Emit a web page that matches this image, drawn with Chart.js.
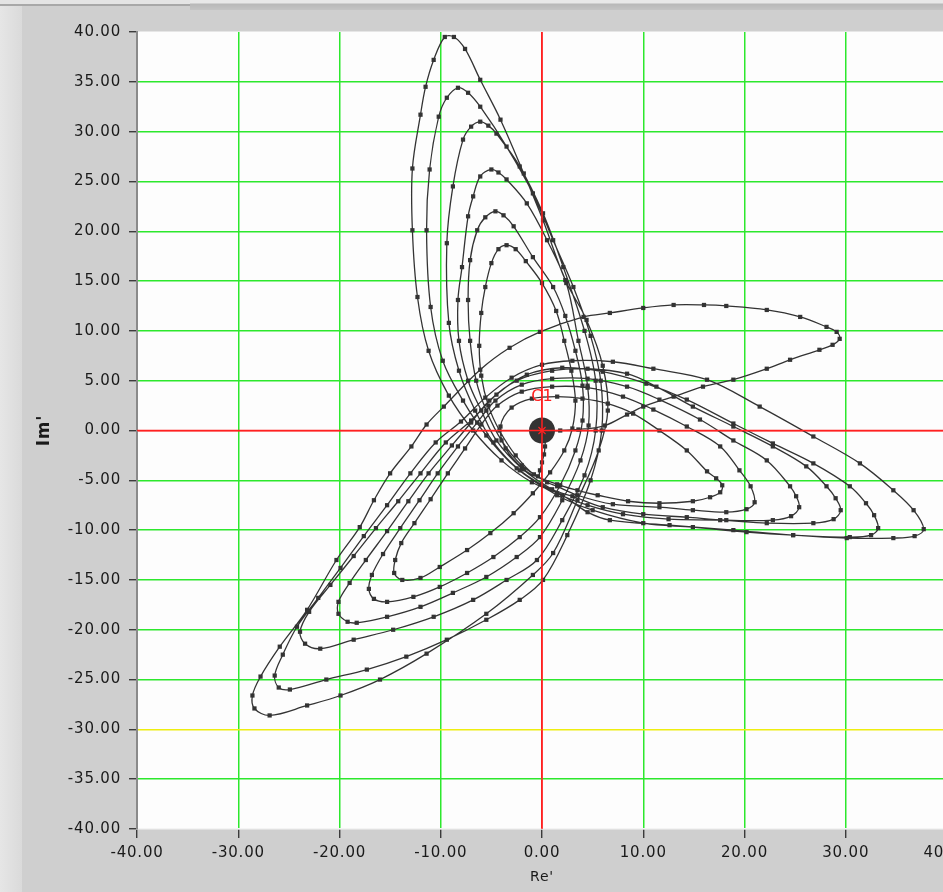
<!DOCTYPE html>
<html>
<head>
<meta charset="utf-8">
<script src="https://cdn.jsdelivr.net/npm/chart.js@4.4.1/dist/chart.umd.min.js"></script>
<style>
  html, body { margin: 0; padding: 0; width: 943px; height: 892px; overflow: hidden; background: #cfcfcf; }
  #left-strip { position: absolute; left: 0; top: 0; width: 22px; height: 892px; background: linear-gradient(to right, #e6e6e6, #dadada); }
  #top-tab { position: absolute; left: 0; top: 0; width: 190px; height: 4px; background: #e4e4e4; border-bottom: 2px solid #a8a8a8; }
  #top-bar { position: absolute; left: 190px; top: 0; width: 753px; height: 10px; background: linear-gradient(to bottom, #e8e8e8 0, #e8e8e8 3px, #b8b8b8 4px, #c4c4c4 10px); }
  #wrap { position: absolute; left: 0; top: 0; width: 1000px; height: 892px; }
</style>
</head>
<body>
<div id="left-strip"></div>
<div id="top-tab"></div>
<div id="top-bar"></div>
<div id="wrap"><canvas id="xyGraph"></canvas></div>
<script>
const curveColor = "#333333";
const gridColor = "#2de82d";
const cursorColor = "#ff2020";
const cursor2Color = "#eeee10";
const textColor = "#1a1a1a";

const axisMin = -40;
const axisMax = 40;
const xStep = 10;
const yStep = 5;

// cursor C1 sits on the origin, a second cursor line at Im' = -30
const cursorName = 'C1';
const cursorRe = 0;
const cursorIm = 0;
const cursor2Im = -30;

// [Re', Im'] samples, outer turn first, ending at the origin
const firstLoop = [[0.0,0.0],[1.8,0.0],[3.6,0.1],[6.2,0.5],[8.4,1.6],[10.0,2.4],[13.0,3.4],[15.9,4.4],[18.9,5.1],[22.2,6.2],[24.5,7.1],[27.4,8.1],[28.7,8.6],[29.4,9.2],[29.1,9.9],[28.1,10.4],[25.5,11.4],[22.2,12.1],[18.2,12.5],[16.0,12.6],[13.0,12.6],[10.0,12.3],[6.7,11.8],[4.1,11.4],[-0.2,9.9],[-3.2,8.3],[-6.1,6.1],[-9.7,2.4],[-11.4,0.6],[-12.9,-1.6]];

const turn6 = [[-15.0,-4.3],[-16.6,-7.0],[-18.0,-9.7],[-20.3,-13.0],[-23.2,-18.0],[-25.9,-21.7],[-27.8,-24.7],[-28.6,-26.6],[-28.4,-27.9],[-26.9,-28.6],[-23.2,-27.6],[-19.9,-26.6],[-16.0,-25.0],[-11.4,-22.4],[-5.5,-18.4],[-0.9,-14.5],[1.1,-12.3],[3.5,-7.0],
  [5.6,-2.0],[6.5,2.0],[6.0,6.5],[4.4,11.1],[2.3,15.1],[0.1,21.1],[-1.8,25.8],[-4.1,31.2],[-6.1,35.2],[-7.6,38.3],[-8.7,39.5],[-9.6,39.5],[-10.7,37.2],[-11.5,34.5],[-12.0,31.7],[-12.8,26.3],[-12.8,20.1],[-12.3,13.4],[-11.2,8.0],[-9.2,3.5],[-6.8,0.0],[-4.0,-3.0],[-1.0,-5.2],[2.0,-6.5],
  [4.5,-8.2],[6.7,-9.0],[12.6,-9.5],[18.9,-10.0],[24.8,-10.5],[30.1,-10.8],[34.7,-10.8],[36.8,-10.6],[37.7,-9.9],[36.7,-8.0],[34.7,-6.0],[31.4,-3.3],[26.8,-0.6],[21.5,2.4],[16.3,5.1],[11.0,6.2],[7.0,6.9],[3.0,7.0],[0.0,6.6],[-3.0,5.3],[-5.6,3.3],[-8.0,0.9],[-10.5,-1.2]];

const turn5 = [[-13.0,-4.3],[-15.3,-7.5],[-17.6,-10.6],[-19.9,-13.8],[-22.1,-16.8],[-24.2,-19.7],[-25.6,-22.5],[-26.4,-24.6],[-26.0,-25.8],[-24.9,-26.0],[-21.3,-25.0],[-17.3,-24.0],[-13.4,-22.7],[-9.4,-21.0],[-5.5,-19.0],[-2.2,-17.0],[0.1,-15.0],[2.5,-10.5],
  [4.8,-5.0],[5.9,0.0],[5.8,5.0],[4.8,9.5],[3.1,14.4],[1.1,19.1],[-0.9,23.8],[-3.5,28.5],[-6.1,32.5],[-7.3,33.9],[-8.3,34.4],[-9.4,33.4],[-10.2,31.5],[-11.1,26.2],[-11.4,20.1],[-11.0,12.4],[-9.8,7.0],[-7.8,3.0],[-5.5,-0.5],[-2.5,-3.8],[1.5,-6.5],
  [5.0,-8.0],[10.0,-9.3],[14.9,-9.7],[20.2,-10.2],[24.8,-10.5],[30.4,-10.7],[32.5,-10.5],[33.2,-9.8],[32.8,-8.5],[32.0,-7.3],[30.4,-5.6],[26.8,-3.3],[22.8,-1.3],[18.9,0.7],[14.3,3.1],[10.3,4.7],[6.0,5.9],[2.0,6.3],[-1.5,5.6],[-4.5,3.6],[-7.0,1.0],[-9.5,-1.2]];

const turn4 = [[-12.0,-4.3],[-14.2,-7.1],[-16.4,-9.8],[-18.6,-12.6],[-20.9,-15.5],[-23.0,-18.2],[-23.9,-20.2],[-23.4,-21.4],[-21.9,-21.9],[-18.6,-21.0],[-14.7,-20.0],[-10.7,-18.7],[-6.8,-17.0],[-3.5,-15.0],[-0.5,-13.0],[2.0,-9.0],
  [4.2,-4.5],[5.3,0.0],[5.3,5.0],[4.2,10.0],[2.1,16.4],[0.1,21.8],[-2.2,26.5],[-4.5,29.8],[-5.3,30.6],[-6.1,31.0],[-7.0,30.5],[-7.8,29.2],[-8.8,24.5],[-9.4,18.8],[-9.2,10.8],[-8.2,6.0],[-6.6,2.0],[-4.8,-1.2],[-2.2,-4.0],[1.5,-6.3],
  [4.5,-7.5],[8.0,-8.4],[12.5,-8.9],[17.6,-9.0],[22.2,-9.3],[26.8,-9.3],[28.8,-8.9],[29.5,-8.0],[29.0,-6.8],[28.1,-5.6],[26.1,-3.6],[22.8,-1.6],[18.9,0.4],[14.9,2.4],[11.3,4.4],[8.4,5.7],[4.5,6.2],[1.0,6.0],[-2.5,5.0],[-5.2,3.0],[-7.0,0.8],[-8.9,-1.5]];

const turn3 = [[-11.2,-4.3],[-13.2,-7.1],[-15.3,-10.1],[-17.4,-13.0],[-19.0,-15.3],[-20.1,-17.2],[-20.1,-18.4],[-19.2,-19.2],[-18.3,-19.3],[-15.3,-18.7],[-12.0,-17.7],[-8.8,-16.3],[-5.5,-14.7],[-2.5,-12.7],[-0.2,-10.7],[2.0,-7.0],
  [3.8,-3.0],[4.6,0.5],[4.5,4.5],[3.6,9.0],[2.4,14.8],[0.5,19.1],[-1.5,22.8],[-3.5,25.2],[-4.3,25.9],[-5.0,26.2],[-6.1,25.5],[-6.8,23.5],[-7.3,21.5],[-7.9,16.4],[-8.3,13.1],[-8.2,9.0],[-7.3,5.0],[-6.0,2.0],[-4.5,-1.0],[-2.0,-3.8],[1.0,-5.9],
  [3.0,-6.6],[6.0,-7.7],[10.0,-8.4],[14.3,-8.7],[18.2,-9.0],[22.8,-9.0],[24.6,-8.6],[25.4,-7.7],[25.1,-6.6],[24.5,-5.6],[22.2,-3.0],[18.9,-1.0],[15.6,1.1],[11.6,3.1],[8.4,4.4],[4.5,5.2],[1.0,5.2],[-2.0,4.6],[-4.6,3.0],[-6.4,0.8],[-8.3,-1.6]];

const turn2 = [[-10.3,-4.3],[-12.1,-7.0],[-14.0,-9.8],[-15.7,-12.4],[-16.8,-14.5],[-17.1,-15.9],[-16.6,-16.9],[-15.3,-17.2],[-12.7,-16.7],[-10.1,-15.7],[-7.4,-14.3],[-4.8,-12.7],[-2.2,-10.7],[-0.2,-8.7],[1.8,-5.5],
  [3.3,-2.0],[4.0,1.0],[4.0,4.5],[3.3,8.0],[2.3,11.5],[1.1,14.4],[-0.9,17.4],[-2.8,20.5],[-3.8,21.6],[-4.6,22.0],[-5.6,21.4],[-6.4,20.1],[-7.1,17.1],[-7.3,13.1],[-7.1,9.0],[-6.5,5.0],[-5.5,2.0],[-4.0,-1.0],[-2.0,-3.5],[0.5,-5.2],
  [1.5,-5.6],[3.5,-6.5],[7.0,-7.4],[11.6,-7.7],[14.9,-8.0],[18.2,-8.2],[20.2,-7.9],[21.0,-7.2],[20.6,-5.6],[19.5,-4.0],[17.6,-1.6],[14.3,0.4],[11.0,2.1],[8.0,3.4],[4.5,4.3],[1.0,4.4],[-2.0,3.9],[-4.4,2.5],[-6.0,0.6],[-7.6,-1.8]];

const turn1 = [[-9.3,-4.3],[-11.0,-6.9],[-12.6,-9.3],[-13.9,-11.3],[-14.5,-13.0],[-14.6,-14.3],[-13.8,-15.0],[-12.0,-14.8],[-10.1,-13.7],[-7.4,-12.0],[-5.1,-10.3],[-2.8,-8.3],[-0.9,-6.3],[0.8,-4.2],
  [2.2,-2.0],[3.0,0.2],[3.3,3.0],[2.9,6.0],[2.2,9.0],[1.4,12.0],[0.0,14.8],[-1.6,17.0],[-2.6,18.2],[-3.5,18.6],[-4.3,18.2],[-5.0,16.8],[-5.6,14.4],[-6.0,11.8],[-6.2,8.5],[-6.0,5.5],[-5.3,2.5],[-4.2,0.0],[-2.6,-2.5],[-0.8,-4.4],
  [1.5,-5.4],[3.5,-6.0],[5.5,-6.5],[8.5,-7.1],[11.6,-7.3],[14.9,-7.1],[16.6,-6.7],[17.6,-6.2],[17.8,-5.5],[17.2,-4.8],[16.3,-4.1],[14.3,-2.0],[11.6,0.0],[9.0,1.7],[6.5,2.7],[4.0,3.2],[1.5,3.4],[-1.0,3.2]];

const settleTrace = [[-3.0,2.3],[-4.1,0.4],[-3.6,-1.8],[-1.8,-3.9],[-0.4,-4.6],[-0.2,-4.0],[0.0,-3.2],[0.2,-2.4],[0.3,-1.6],[0.3,-0.8],[0.0,0.0]];

function toPoints(pairs) {
    return pairs.map(function(p) {
        return { x: p[0], y: p[1] };
    });
}

function gridLineColor(value, cursorValues) {
    if (value === axisMin || value === axisMax) {
        return 'rgba(0,0,0,0)';
    }
    if (value === cursorValues[0]) {
        return cursorColor;
    }
    if (cursorValues.length > 1 && value === cursorValues[1]) {
        return cursor2Color;
    }
    return gridColor;
}

const fullTrace = [].concat(firstLoop, turn6, turn5, turn4, turn3, turn2, turn1, settleTrace);

const plotAreaPlugin = {
    id: 'plotArea',
    beforeDraw: function(chart) {
        const ctx = chart.ctx;
        const a = chart.chartArea;
        ctx.save();
        ctx.fillStyle = '#fdfdfd';
        ctx.fillRect(a.left, a.top, a.right - a.left, a.bottom - a.top);
        ctx.fillStyle = '#e6e6e6';
        ctx.fillRect(a.left, a.top - 1, a.right - a.left, 1);
        ctx.restore();
        ctx.letterSpacing = '0.8px';
    },
    afterDatasetsDraw: function(chart) {
        const ctx = chart.ctx;
        const px = chart.scales.x.getPixelForValue(cursorRe);
        const py = chart.scales.y.getPixelForValue(cursorIm);
        ctx.save();
        ctx.letterSpacing = '0px';
        ctx.fillStyle = cursorColor;
        ctx.font = '16px "DejaVu Sans"';
        ctx.textAlign = 'center';
        ctx.textBaseline = 'middle';
        ctx.fillText(cursorName, px, py - 34);
        ctx.restore();
    }
};

Chart.defaults.font.family = '"DejaVu Sans", sans-serif';
Chart.defaults.color = textColor;

const traceStyle = {
    showLine: true,
    borderColor: curveColor,
    borderWidth: 1.3,
    tension: 0.35,
    pointStyle: 'rect',
    pointRadius: 3,
    pointBackgroundColor: curveColor,
    pointBorderWidth: 0
};

new Chart(document.getElementById('xyGraph'), {
    type: 'scatter',
    data: {
        datasets: [
            {
                data: [{ x: cursorRe, y: cursorIm }],
                pointStyle: 'crossRot',
                pointRadius: 5,
                borderColor: cursorColor,
                pointBorderWidth: 1.2
            },
            {
                data: [{ x: cursorRe, y: axisMin }, { x: cursorRe, y: axisMax }],
                showLine: true, borderColor: cursorColor, borderWidth: 1.5, pointRadius: 0
            },
            {
                data: [{ x: axisMin, y: cursorIm }, { x: axisMax, y: cursorIm }],
                showLine: true, borderColor: cursorColor, borderWidth: 1.5, pointRadius: 0
            },
            Object.assign({ data: toPoints(fullTrace) }, traceStyle),
            {
                data: [{ x: cursorRe, y: cursorIm }],
                pointStyle: 'circle',
                pointRadius: 13,
                pointBackgroundColor: curveColor,
                pointBorderWidth: 0
            }
        ]
    },
    options: {
        responsive: true,
        maintainAspectRatio: false,
        animation: false,
        layout: {
            autoPadding: false,
            padding: { left: 0, top: 32, right: 53, bottom: 0 }
        },
        plugins: {
            legend: { display: false },
            tooltip: { enabled: false }
        },
        scales: {
            x: {
                type: 'linear',
                min: axisMin,
                max: axisMax,
                afterFit: function(scale) { scale.height = 63; },
                ticks: {
                    stepSize: xStep,
                    autoSkip: false,
                    maxRotation: 0,
                    padding: 6,
                    color: textColor,
                    font: { size: 15 },
                    callback: function(v) { return v.toFixed(2); }
                },
                grid: {
                    lineWidth: 1.5,
                    color: function(c) { return gridLineColor(c.tick.value, [cursorRe]); },
                    drawTicks: true,
                    tickLength: 9,
                    tickColor: '#222',
                    tickWidth: 1.2
                },
                border: { color: '#f4f4f4', width: 1.5 },
                title: {
                    display: true,
                    text: "Re'",
                    color: textColor,
                    font: { size: 14 },
                    padding: { top: 4, bottom: 6 }
                }
            },
            y: {
                type: 'linear',
                min: axisMin,
                max: axisMax,
                afterFit: function(scale) { scale.width = 137; },
                ticks: {
                    stepSize: yStep,
                    autoSkip: false,
                    padding: 8,
                    color: textColor,
                    font: { size: 15 },
                    callback: function(v) { return v.toFixed(2); }
                },
                grid: {
                    lineWidth: 1.5,
                    color: function(c) { return gridLineColor(c.tick.value, [cursorIm, cursor2Im]); },
                    drawTicks: true,
                    tickLength: 8,
                    tickColor: '#222',
                    tickWidth: 1.2
                },
                border: { color: '#8a8a8a', width: 2 },
                title: {
                    display: true,
                    text: "Im'",
                    color: textColor,
                    font: { size: 17, weight: 'bold' },
                    padding: { top: 34, bottom: 4 }
                }
            }
        }
    },
    plugins: [plotAreaPlugin]
});
</script>
</body>
</html>
